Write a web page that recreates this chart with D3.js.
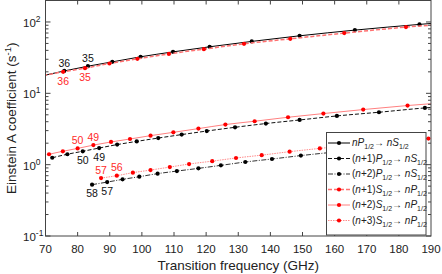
<!DOCTYPE html>
<html>
<head>
<meta charset="utf-8">
<script src="https://cdn.jsdelivr.net/npm/d3@7"></script>
<style>
  body { margin: 0; background: #fff; }
  svg { display: block; font-family: "Liberation Sans", Arial, sans-serif; }
</style>
</head>
<body>
<div class="board"></div>
<script>
// values (GHz, s^-1); first/last points of some series sit just outside the frame
var freqP0 = [69.5, 75.85, 83.2, 90.8, 99.6, 109.7, 121.1, 134.2, 149.1, 166.3, 186.4, 208];
var rateP0 = [17.8, 20.6, 24.0, 27.6, 32.5, 38.1, 44.9, 53.4, 64.0, 76.9, 92.5, 110];
var freqP1 = [72.1, 76.8, 81.6, 86.7, 92.3, 98.4, 105.1, 112.4, 120.2, 129.0, 138.6, 149.1, 160.7, 173.8, 188.1, 203.5];
var rateP1 = [1.25, 1.40, 1.54, 1.71, 1.91, 2.12, 2.36, 2.64, 2.96, 3.34, 3.77, 4.23, 4.82, 5.43, 6.24, 7.0];
var freqP2 = [84.5, 89.2, 94.0, 99.2, 104.9, 110.9, 117.6, 124.6, 132.2, 140.5, 149.5, 159.2, 169.7, 181.0];
var rateP2 = [0.524, 0.570, 0.622, 0.678, 0.748, 0.813, 0.887, 0.978, 1.09, 1.20, 1.34, 1.49, 1.65, 1.84];
var freqS1 = [69.3, 75.5, 82.3, 89.9, 98.6, 108.4, 119.3, 131.8, 146.2, 163.0, 182.2, 204];
var rateS1 = [17.8, 20.0, 22.5, 26.2, 30.4, 35.7, 41.6, 49.4, 58.1, 69.8, 84.8, 99];
var freqS2 = [71.1, 75.4, 80.0, 84.9, 90.4, 96.3, 102.7, 109.8, 117.6, 126.0, 135.1, 145.5, 156.5, 168.9, 182.7, 197.5];
var rateS2 = [1.40, 1.54, 1.69, 1.88, 2.08, 2.29, 2.55, 2.84, 3.20, 3.65, 4.06, 4.62, 5.20, 5.92, 6.74, 7.6];
var freqS3 = [87.3, 92.2, 97.2, 102.7, 108.7, 114.7, 121.9, 129.3, 137.3, 146.0, 155.4, 165.5, 176.8, 189.2];
var rateS3 = [0.648, 0.701, 0.772, 0.840, 0.925, 1.02, 1.12, 1.24, 1.36, 1.52, 1.69, 1.88, 2.08, 2.32];

var xTicks = [70, 80, 90, 100, 110, 120, 130, 140, 150, 160, 170, 180, 190];
var yTicks = [0.1, 1, 10, 100];
var yTickExp = ['-1', '0', '1', '2'];

// legend: n offset, initial state, final state
var legendShift = ['', '+1', '+2', '+1', '+2', '+3'];
var legendFrom = ['P', 'P', 'P', 'S', 'S', 'S'];
var legendTo = ['S', 'S', 'S', 'P', 'P', 'P'];

// n labels: series, point index, text, side
var nLabels = [
  [0, 1, '36', 'up'], [0, 2, '35', 'up'],
  [3, 1, '36', 'down'], [3, 2, '35', 'down'],
  [1, 2, '50', 'down'], [1, 3, '49', 'down'],
  [4, 2, '50', 'up'], [4, 3, '49', 'up'],
  [2, 0, '58', 'down'], [2, 1, '57', 'down'],
  [5, 0, '57', 'up'], [5, 1, '56', 'up']
];

var series = [
  { f: freqP0, a: rateP0, line: '#000', dot: '#000', dash: null, w: 1 },
  { f: freqP1, a: rateP1, line: '#111', dot: '#000', dash: '4,2', w: 1 },
  { f: freqP2, a: rateP2, line: '#333', dot: '#000', dash: '5,1.5,1,1.5', w: 1 },
  { f: freqS1, a: rateS1, line: '#ff7070', dot: '#ff0000', dash: '4,2', w: 1.5 },
  { f: freqS2, a: rateS2, line: '#ff8080', dot: '#ff0000', dash: null, w: 1 },
  { f: freqS3, a: rateS3, line: '#ff8c8c', dot: '#ff0000', dash: '1.5,1', w: 1 }
];

var W = 442, H = 274;
var L = 45.5, R = 431, T = 0.5, B = 236;
var frame = '#444';

var x = d3.scaleLinear().domain([70, 190]).range([L, R]);
var y = d3.scaleLog().domain([0.1, 200]).range([B, T]);

var svg = d3.select('.board').append('svg')
  .attr('width', W).attr('height', H);

svg.append('clipPath').attr('id', 'plot')
  .append('rect').attr('x', L).attr('y', T).attr('width', R - L).attr('height', B - T);

var plot = svg.append('g').attr('clip-path', 'url(#plot)');

var line = d3.line()
  .x(function(d) { return x(d[0]); })
  .y(function(d) { return y(d[1]); })
  .curve(d3.curveMonotoneX);

series.forEach(function(s) {
  var pts = s.f.map(function(f, i) { return [f, s.a[i]]; });
  plot.append('path')
    .attr('d', line(pts))
    .attr('fill', 'none')
    .attr('stroke', s.line)
    .attr('stroke-width', s.w)
    .attr('stroke-dasharray', s.dash);
  plot.selectAll(null).data(pts).enter().append('circle')
    .attr('cx', function(d) { return x(d[0]); })
    .attr('cy', function(d) { return y(d[1]); })
    .attr('r', 2.1)
    .attr('fill', s.dot);
});

// n labels
nLabels.forEach(function(l) {
  var s = series[l[0]];
  svg.append('text')
    .attr('x', x(s.f[l[1]]))
    .attr('y', y(s.a[l[1]]) + (l[3] === 'up' ? -8 : 9))
    .attr('dy', '0.36em')
    .attr('text-anchor', 'middle')
    .attr('font-size', 10.5)
    .attr('fill', s.dot === '#000' ? '#111' : '#ff2a2a')
    .text(l[2]);
});

// frame and ticks
svg.append('rect')
  .attr('x', L).attr('y', T).attr('width', R - L).attr('height', B - T)
  .attr('fill', 'none').attr('stroke', frame).attr('stroke-width', 1);

var ticks = svg.append('g').attr('stroke', frame).attr('stroke-width', 1);
xTicks.slice(1, -1).forEach(function(v) {
  ticks.append('line').attr('x1', x(v)).attr('x2', x(v)).attr('y1', B).attr('y2', B - 4);
  ticks.append('line').attr('x1', x(v)).attr('x2', x(v)).attr('y1', T).attr('y2', T + 4);
});
var minor = [];
yTicks.forEach(function(d) {
  for (var k = 1; k < 10; k++) {
    if (d * k <= 200) minor.push([d * k, k === 1]);
  }
});
minor.forEach(function(m) {
  var len = m[1] ? 5 : 3;
  ticks.append('line').attr('x1', L).attr('x2', L + len).attr('y1', y(m[0])).attr('y2', y(m[0]));
  ticks.append('line').attr('x1', R).attr('x2', R - len).attr('y1', y(m[0])).attr('y2', y(m[0]));
});

// tick labels
svg.selectAll('.xl').data(xTicks).enter().append('text')
  .attr('x', function(d) { return x(d); })
  .attr('y', 253)
  .attr('text-anchor', 'middle')
  .attr('font-size', 11.5)
  .attr('fill', '#222')
  .text(function(d) { return d; });

yTicks.forEach(function(d, i) {
  var t = svg.append('text')
    .attr('x', 23)
    .attr('y', y(d) + 5)
    .attr('font-size', 11.5)
    .attr('fill', '#222');
  t.append('tspan').text('10');
  t.append('tspan').attr('dy', -5).attr('font-size', 8.5).text(yTickExp[i]);
});

// axis titles
svg.append('text')
  .attr('x', (L + R) / 2)
  .attr('y', 270)
  .attr('text-anchor', 'middle')
  .attr('font-size', 13.5)
  .attr('fill', '#222')
  .text('Transition frequency (GHz)');

var yt = svg.append('text')
  .attr('transform', 'translate(16,' + ((T + B) / 2) + ') rotate(-90)')
  .attr('text-anchor', 'middle')
  .attr('font-size', 13.5)
  .attr('fill', '#222');
yt.append('tspan').text('Einstein A coefficient (s');
yt.append('tspan').attr('dy', -5).attr('font-size', 9.5).text('-1');
yt.append('tspan').attr('dy', 5).text(')');

// legend
var lg = svg.append('g');
lg.append('rect')
  .attr('x', 326.5).attr('y', 132.5).attr('width', 99.5).attr('height', 102.5)
  .attr('fill', '#fff').attr('stroke', frame).attr('stroke-width', 1);

series.forEach(function(s, i) {
  var ry = 143 + i * 15.5;
  lg.append('line')
    .attr('x1', 328).attr('x2', 350).attr('y1', ry).attr('y2', ry)
    .attr('stroke', s.line).attr('stroke-width', s.w)
    .attr('stroke-dasharray', s.dash);
  lg.append('circle').attr('cx', 339).attr('cy', ry).attr('r', 2.1).attr('fill', s.dot);
  var t = lg.append('text')
    .attr('x', 352).attr('y', ry + 3)
    .attr('font-size', 10).attr('fill', '#222');
  if (legendShift[i]) {
    t.append('tspan').text('(');
    t.append('tspan').attr('font-style', 'italic').text('n');
    t.append('tspan').text(legendShift[i] + ')');
  } else {
    t.append('tspan').attr('font-style', 'italic').text('n');
  }
  t.append('tspan').attr('font-style', 'italic').text(legendFrom[i]);
  t.append('tspan').attr('dy', 3).attr('font-size', 7).text('1/2');
  t.append('tspan').attr('dy', -3).text('\u2192 ');
  t.append('tspan').attr('font-style', 'italic').text('n' + legendTo[i]);
  t.append('tspan').attr('dy', 3).attr('font-size', 7).text('1/2');
});
</script>
</body>
</html>
